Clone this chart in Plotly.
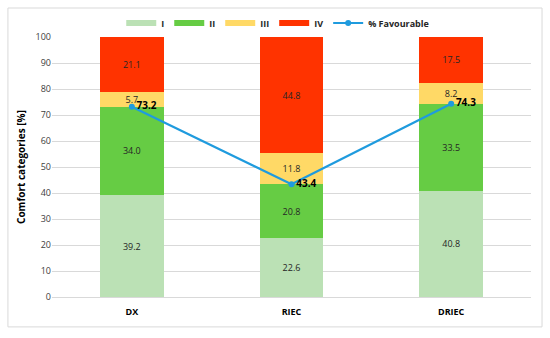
import plotly.graph_objects as go

categories = ["DX", "RIEC", "DRIEC"]
cat_I = [39.2, 22.6, 40.8]
cat_II = [34.0, 20.8, 33.5]
cat_III = [5.7, 11.8, 8.2]
cat_IV = [21.1, 44.8, 17.5]
favourable = [73.2, 43.4, 74.3]

colors = {"I": "#BBE1B5", "II": "#66CC44", "III": "#FFD966", "IV": "#FF3300"}
font_family = "Open Sans, Lato, sans-serif"

fig = go.Figure()
for name, vals in [("I", cat_I), ("II", cat_II), ("III", cat_III), ("IV", cat_IV)]:
    fig.add_trace(go.Bar(
        x=categories, y=vals, name=name, marker_color=colors[name],
        marker_line_width=0, width=0.4, showlegend=False, legendgroup=name,
        text=[f"{v:.1f}" for v in vals], textposition="inside",
        insidetextanchor="middle", textangle=0, constraintext="none",
        textfont=dict(size=9, color="#262626", family=font_family),
        hoverinfo="skip",
    ))
    # legend swatch (long rectangle like the original)
    fig.add_trace(go.Scatter(
        x=[None], y=[None], mode="lines", name=name, legendgroup=name,
        line=dict(color=colors[name], width=6), hoverinfo="skip",
    ))

fig.add_trace(go.Scatter(
    x=categories, y=favourable, name="% Favourable", mode="lines+markers+text",
    line=dict(color="#1F9BDE", width=2.2), marker=dict(size=6, color="#1F9BDE"),
    text=[f"<b>{v:.1f}</b>" for v in favourable], textposition="middle right",
    textfont=dict(size=10, color="#000000", family=font_family),
    cliponaxis=False,
))

fig.update_layout(
    barmode="stack",
    width=550, height=338,
    margin=dict(l=52, r=19, t=37, b=41, autoexpand=False),
    paper_bgcolor="white", plot_bgcolor="white",
    font=dict(family=font_family, size=9, color="#404040"),
    legend=dict(orientation="h", x=0.505, xanchor="center", xref="container",
                y=1 - 23 / 338, yanchor="middle", yref="container",
                font=dict(size=9, color="#262626", weight="bold"),
                itemwidth=30, traceorder="normal", tracegroupgap=0,
                bgcolor="rgba(0,0,0,0)"),
    xaxis=dict(showgrid=False, showline=True, linecolor="#D9D9D9", linewidth=1,
               tickfont=dict(size=9, color="#000000", family=font_family, weight="bold"),
               ticks="", ticklabelstandoff=6, automargin=False),
    yaxis=dict(range=[0, 100], dtick=10, showgrid=True, gridcolor="#D9D9D9",
               gridwidth=1, zeroline=False, showline=False, automargin=False,
               tickfont=dict(size=9, color="#404040"),
               title=dict(text="Comfort categories [%]", standoff=8,
                          font=dict(size=10, color="#000000", weight="bold"))),
    showlegend=True,
)

fig.add_shape(type="rect", xref="paper", yref="paper",
              x0=-0.092, x1=1.023, y0=-0.115, y1=1.1115,
              line=dict(color="#D9D9D9", width=1), fillcolor="rgba(0,0,0,0)", layer="below")

fig.write_html("out.html", config={"displayModeBar": False},
               post_script="document.body.style.margin='0';document.body.style.overflow='hidden';")
